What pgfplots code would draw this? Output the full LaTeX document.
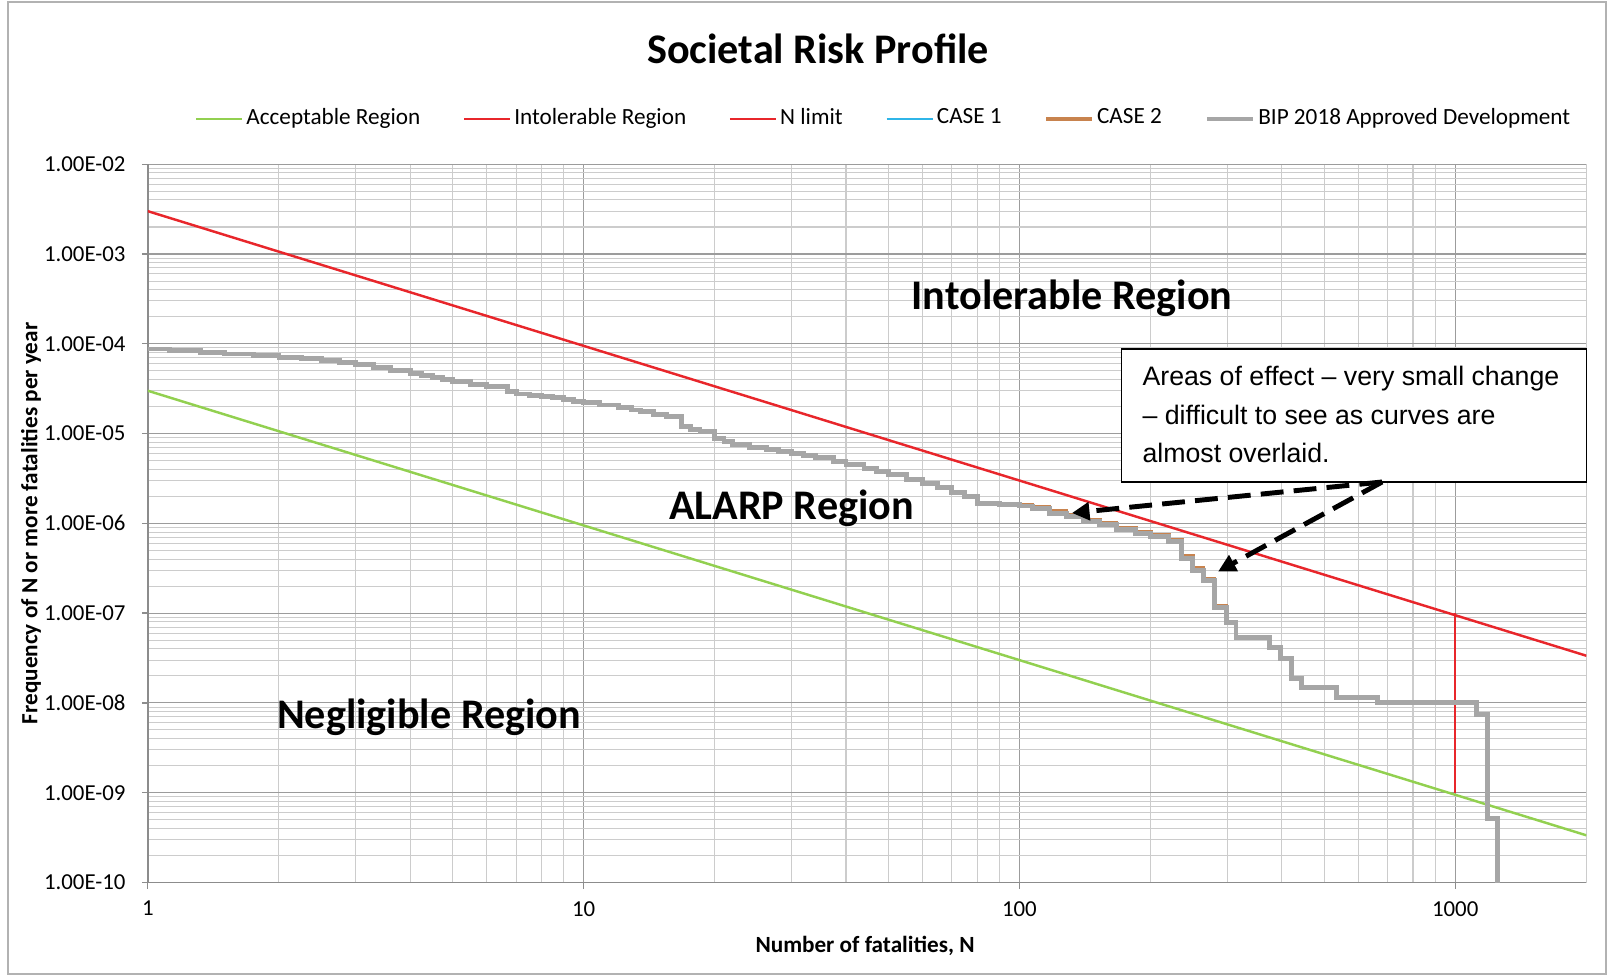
\documentclass[border=0pt]{standalone}
\usepackage{pgfplots}
\pgfplotsset{compat=1.18}
\usepackage{pgfplotstable}
\usepackage{fontspec}
\setmainfont{Carlito}
\newfontfamily\arialfont{Liberation Sans}
\usetikzlibrary{arrows.meta}
\definecolor{accgreen}{HTML}{92D050}
\definecolor{intred}{HTML}{E8262B}
\definecolor{caseone}{HTML}{2FB5E8}
\definecolor{casetwo}{HTML}{C8834E}
\definecolor{bipgrey}{HTML}{A6A6A6}
\definecolor{gridmaj}{HTML}{9C9C9C}
\definecolor{gridmin}{HTML}{CCCCCC}
\definecolor{axisgrey}{HTML}{8C8C8C}

\pgfplotstableread{
N F
1 8.75e-5
1.12 8.4e-5
1.32 8.0e-5
1.5 7.7e-5
1.75 7.4e-5
2 7.1e-5
2.25 6.8e-5
2.5 6.5e-5
2.75 6.2e-5
3 5.9e-5
3.3 5.4e-5
3.6 5.0e-5
4 4.7e-5
4.25 4.45e-5
4.5 4.2e-5
4.75 4.0e-5
5 3.8e-5
5.5 3.55e-5
6 3.33e-5
6.7 2.93e-5
7 2.76e-5
7.5 2.67e-5
8 2.58e-5
8.5 2.5e-5
9 2.41e-5
9.5 2.3e-5
10 2.21e-5
10.9 2.08e-5
12 1.95e-5
12.9 1.83e-5
13.5 1.75e-5
14.5 1.65e-5
15.5 1.54e-5
16.8 1.19e-5
17.6 1.12e-5
18.5 1.05e-5
20 8.9e-6
21 8.1e-6
22 7.5e-6
24 7.0e-6
26.3 6.6e-6
28 6.3e-6
30 6.0e-6
32 5.7e-6
34 5.4e-6
37.4 4.9e-6
40 4.5e-6
44 4.1e-6
47 3.8e-6
50 3.5e-6
55 3.1e-6
60 2.8e-6
65 2.5e-6
70 2.2e-6
75 2.0e-6
80 1.67e-6
90 1.62e-6
100 1.56e-6
107 1.47e-6
117 1.3e-6
128 1.19e-6
140 1.05e-6
153 9.6e-7
167 8.5e-7
185 7.8e-7
200 7.1e-7
220 6.3e-7
236 4.1e-7
250 3.0e-7
264 2.3e-7
280 1.15e-7
298 7.8e-8
314 5.4e-8
374 4.1e-8
398 3.1e-8
421 1.85e-8
444 1.5e-8
533 1.14e-8
664 1.02e-8
1120 7.5e-9
1188 5.2e-10
1250 1e-11
}\bipdata

\pgfplotstableread{
N F
100 1.62e-6
107 1.53e-6
117 1.36e-6
128 1.24e-6
140 1.10e-6
153 1.0e-6
167 8.8e-7
185 8.1e-7
200 7.4e-7
220 6.5e-7
236 4.3e-7
250 3.15e-7
264 2.4e-7
280 1.2e-7
298 8.0e-8
}\casetwodata

\begin{document}
\begin{tikzpicture}
\begin{axis}[
  xmode=log, ymode=log,
  scale only axis, width=14.386cm, height=7.183cm,
  xmin=1, xmax=2000, ymin=1e-10, ymax=1e-2,
  clip mode=individual,
  axis x line*=bottom, axis y line*=left,
  axis line style={draw=axisgrey, line width=0.45pt},
  xtick={1,10,100,1000}, xticklabels={1,10,100,1000},
  minor xtick={2,3,4,5,6,7,8,9,20,30,40,50,60,70,80,90,200,300,400,500,600,700,800,900,2000},
  ytick={1e-10,1e-9,1e-8,1e-7,1e-6,1e-5,1e-4,1e-3,1e-2},
  yticklabels={1.00E-10,1.00E-09,1.00E-08,1.00E-07,1.00E-06,1.00E-05,1.00E-04,1.00E-03,1.00E-02},
  minor ytick={2e-10,3e-10,4e-10,5e-10,6e-10,7e-10,8e-10,9e-10,
    2e-9,3e-9,4e-9,5e-9,6e-9,7e-9,8e-9,9e-9,
    2e-8,3e-8,4e-8,5e-8,6e-8,7e-8,8e-8,9e-8,
    2e-7,3e-7,4e-7,5e-7,6e-7,7e-7,8e-7,9e-7,
    2e-6,3e-6,4e-6,5e-6,6e-6,7e-6,8e-6,9e-6,
    2e-5,3e-5,4e-5,5e-5,6e-5,7e-5,8e-5,9e-5,
    2e-4,3e-4,4e-4,5e-4,6e-4,7e-4,8e-4,9e-4,
    2e-3,3e-3,4e-3,5e-3,6e-3,7e-3,8e-3,9e-3},
  grid=both,
  major grid style={draw=gridmaj, line width=0.3pt},
  minor grid style={draw=gridmin, line width=0.3pt},
  major tick length=0.06cm, minor tick length=0pt, tick align=outside,
  tick style={draw=axisgrey, line width=0.4pt},
  xticklabel style={font=\fontsize{6.5}{8}\selectfont, anchor=north, inner sep=0pt},
  xticklabel shift=0.12cm,
  yticklabel style={font=\fontsize{6.5}{8}\selectfont, anchor=east, inner sep=0pt, xshift=-0.156cm},
  title={Societal Risk Profile},
  title style={font=\bfseries\fontsize{12}{14}\selectfont, at={(axis description cs:0.466,1.1314)}, anchor=center, yshift=0pt},
  xlabel={Number of fatalities, N},
  xlabel style={font=\bfseries\fontsize{6.6}{8}\selectfont, at={(axis description cs:0.4986,-0.0884)}, anchor=center},
  ylabel={Frequency of N or more fatalities per year},
  ylabel style={font=\bfseries\fontsize{6.6}{8}\selectfont, at={(axis description cs:-0.0812,0.5)}, anchor=center},
  legend columns=6,
  legend style={at={(axis description cs:0.5118,1.0629)}, anchor=center, draw=none, fill=none,
    font=\fontsize{6.6}{8}\selectfont, inner sep=0pt,
    /tikz/every even column/.append style={column sep=0.395cm},
    nodes={inner sep=0.03cm}},
  legend image code/.code={\draw[#1] (0cm,0cm) -- (0.46cm,0cm);},
  legend entries={Acceptable Region, Intolerable Region, N limit, CASE 1, CASE 2, BIP 2018 Approved Development},
]
\addplot[accgreen, line width=0.7pt] coordinates {(1,3e-5) (2000,3.354e-10)};
\addplot[intred, line width=0.7pt] coordinates {(1,3e-3) (2000,3.354e-8)};
\addplot[intred, line width=0.7pt] coordinates {(1000,1e-9) (1000,1e-7)};
\addplot[caseone, line width=0.8pt, const plot mark left] table[x=N,y=F] {\bipdata};
\addplot[casetwo, line width=1.1pt, const plot mark left] table[x=N,y=F] {\casetwodata};
\addplot[bipgrey, line width=1.4pt, const plot mark left] table[x=N,y=F] {\bipdata};

\node[font=\bfseries\fontsize{12}{14}\selectfont] at (axis cs:132,3.24e-4) {Intolerable Region};
\node[font=\bfseries\fontsize{12}{14}\selectfont] at (axis cs:30,1.48e-6) {ALARP Region};
\node[font=\bfseries\fontsize{12}{14}\selectfont] at (axis cs:4.42,6.9e-9) {Negligible Region};

\draw[black, line width=0.4pt, fill=white] (axis description cs:0.677,0.7427) rectangle (axis description cs:1.0,0.5576);
\node[anchor=base west, inner sep=0pt, font=\arialfont\fontsize{7.6}{11}\selectfont] at (axis description cs:0.691,0.6926) {Areas of effect – very small change};
\node[anchor=base west, inner sep=0pt, font=\arialfont\fontsize{7.6}{11}\selectfont] at (axis description cs:0.691,0.6383) {– difficult to see as curves are};
\node[anchor=base west, inner sep=0pt, font=\arialfont\fontsize{7.6}{11}\selectfont] at (axis description cs:0.691,0.5854) {almost overlaid.};

\draw[line width=1.4pt, dash pattern=on 6.5pt off 2.9pt, -{Triangle[length=5pt,width=5pt]}] (axis description cs:0.858,0.5576) -- (axis description cs:0.6424,0.5144);
\draw[line width=1.4pt, dash pattern=on 6.5pt off 2.9pt, -{Triangle[length=5pt,width=5pt]}] (axis description cs:0.858,0.5576) -- (axis description cs:0.7440,0.433);

\draw[gray!60, line width=0.5pt] (axis description cs:-0.0972,-0.1274) rectangle (axis description cs:1.0136,1.2258);
\path (axis description cs:-0.10274,-0.13156) rectangle (axis description cs:1.01571,1.2286);
\end{axis}
\end{tikzpicture}
\end{document}
